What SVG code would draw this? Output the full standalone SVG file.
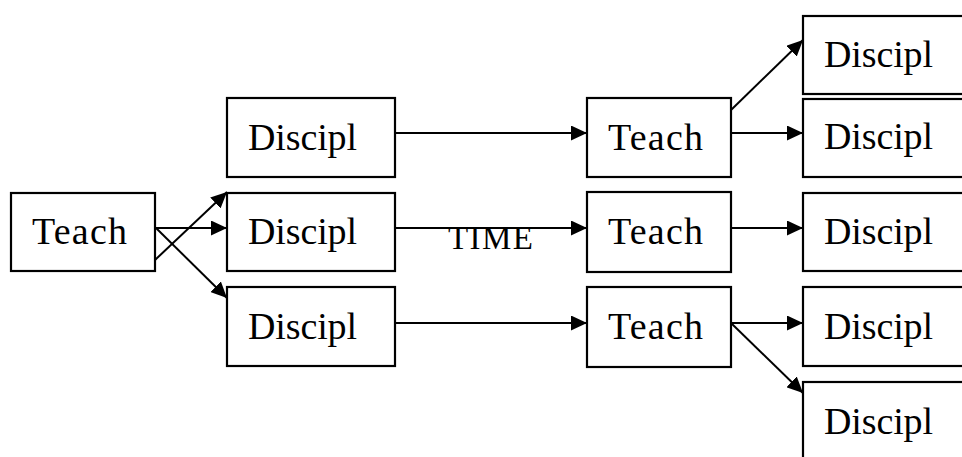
<svg xmlns="http://www.w3.org/2000/svg" width="962" height="457" viewBox="0 0 962 457">
  <defs>
    <marker id="arrow" viewBox="0 0 16 15" refX="16" refY="7.5" markerWidth="16" markerHeight="15" markerUnits="userSpaceOnUse" orient="auto">
      <path d="M0,0 L16,7.5 L0,15 Z" fill="#000"/>
    </marker>
  </defs>
  <style>
    .box { fill: #fff; stroke: #000; stroke-width: 2.2; }
    .lbl { font-family: "Liberation Serif", "Times New Roman", serif; font-size: 38px; fill: #000; }
    .edge { stroke: #000; stroke-width: 2; fill: none; marker-end: url(#arrow); }
    .time { font-family: "Liberation Serif", "Times New Roman", serif; font-size: 33px; fill: #000; }
  </style>
  <rect width="962" height="457" fill="#fff"/>

  <!-- root teacher -->
  <g id="teach-root">
    <rect class="box" x="11" y="193" width="144" height="78"/>
    <text class="lbl" x="32" y="244" textLength="95" lengthAdjust="spacing">Teach</text>
  </g>

  <!-- first generation of disciples -->
  <g id="disc-1a">
    <rect class="box" x="227" y="98" width="168" height="79"/>
    <text class="lbl" x="248" y="150" textLength="109" lengthAdjust="spacing">Discipl</text>
  </g>
  <g id="disc-1b">
    <rect class="box" x="227" y="193" width="168" height="78"/>
    <text class="lbl" x="248" y="244" textLength="109" lengthAdjust="spacing">Discipl</text>
  </g>
  <g id="disc-1c">
    <rect class="box" x="227" y="287" width="168" height="79"/>
    <text class="lbl" x="248" y="339" textLength="109" lengthAdjust="spacing">Discipl</text>
  </g>

  <!-- disciples become teachers -->
  <g id="teach-2a">
    <rect class="box" x="587" y="98" width="144" height="79"/>
    <text class="lbl" x="608" y="150" textLength="95" lengthAdjust="spacing">Teach</text>
  </g>
  <g id="teach-2b">
    <rect class="box" x="587" y="192" width="144" height="80"/>
    <text class="lbl" x="608" y="244" textLength="95" lengthAdjust="spacing">Teach</text>
  </g>
  <g id="teach-2c">
    <rect class="box" x="587" y="287" width="144" height="80"/>
    <text class="lbl" x="608" y="339" textLength="95" lengthAdjust="spacing">Teach</text>
  </g>

  <!-- second generation of disciples -->
  <g id="disc-3a">
    <rect class="box" x="803" y="16" width="200" height="78"/>
    <text class="lbl" x="824" y="67" textLength="109" lengthAdjust="spacing">Discipl</text>
  </g>
  <g id="disc-3b">
    <rect class="box" x="803" y="99" width="200" height="78"/>
    <text class="lbl" x="824" y="149" textLength="109" lengthAdjust="spacing">Discipl</text>
  </g>
  <g id="disc-3c">
    <rect class="box" x="803" y="193" width="200" height="78"/>
    <text class="lbl" x="824" y="244" textLength="109" lengthAdjust="spacing">Discipl</text>
  </g>
  <g id="disc-3d">
    <rect class="box" x="803" y="287" width="200" height="79"/>
    <text class="lbl" x="824" y="339" textLength="109" lengthAdjust="spacing">Discipl</text>
  </g>
  <g id="disc-3e">
    <rect class="box" x="803" y="382" width="200" height="90"/>
    <text class="lbl" x="824" y="434" textLength="109" lengthAdjust="spacing">Discipl</text>
  </g>

  <!-- connectors -->
  <g id="connectors">
    <line class="edge" x1="155" y1="228" x2="227" y2="228"/>
    <line class="edge" x1="155" y1="260" x2="227" y2="192"/>
    <line class="edge" x1="156" y1="228" x2="227" y2="298"/>

    <line class="edge" x1="395" y1="133" x2="587" y2="133"/>
    <line class="edge" x1="395" y1="228" x2="587" y2="228"/>
    <line class="edge" x1="395" y1="323" x2="587" y2="323"/>

    <line class="edge" x1="731" y1="110" x2="803" y2="40"/>
    <line class="edge" x1="731" y1="133" x2="803" y2="133"/>
    <line class="edge" x1="731" y1="228" x2="803" y2="228"/>
    <line class="edge" x1="731" y1="323" x2="803" y2="323"/>
    <line class="edge" x1="731" y1="323" x2="803" y2="393"/>
  </g>

  <text class="time" x="448" y="249" textLength="85" lengthAdjust="spacing">TIME</text>
</svg>
